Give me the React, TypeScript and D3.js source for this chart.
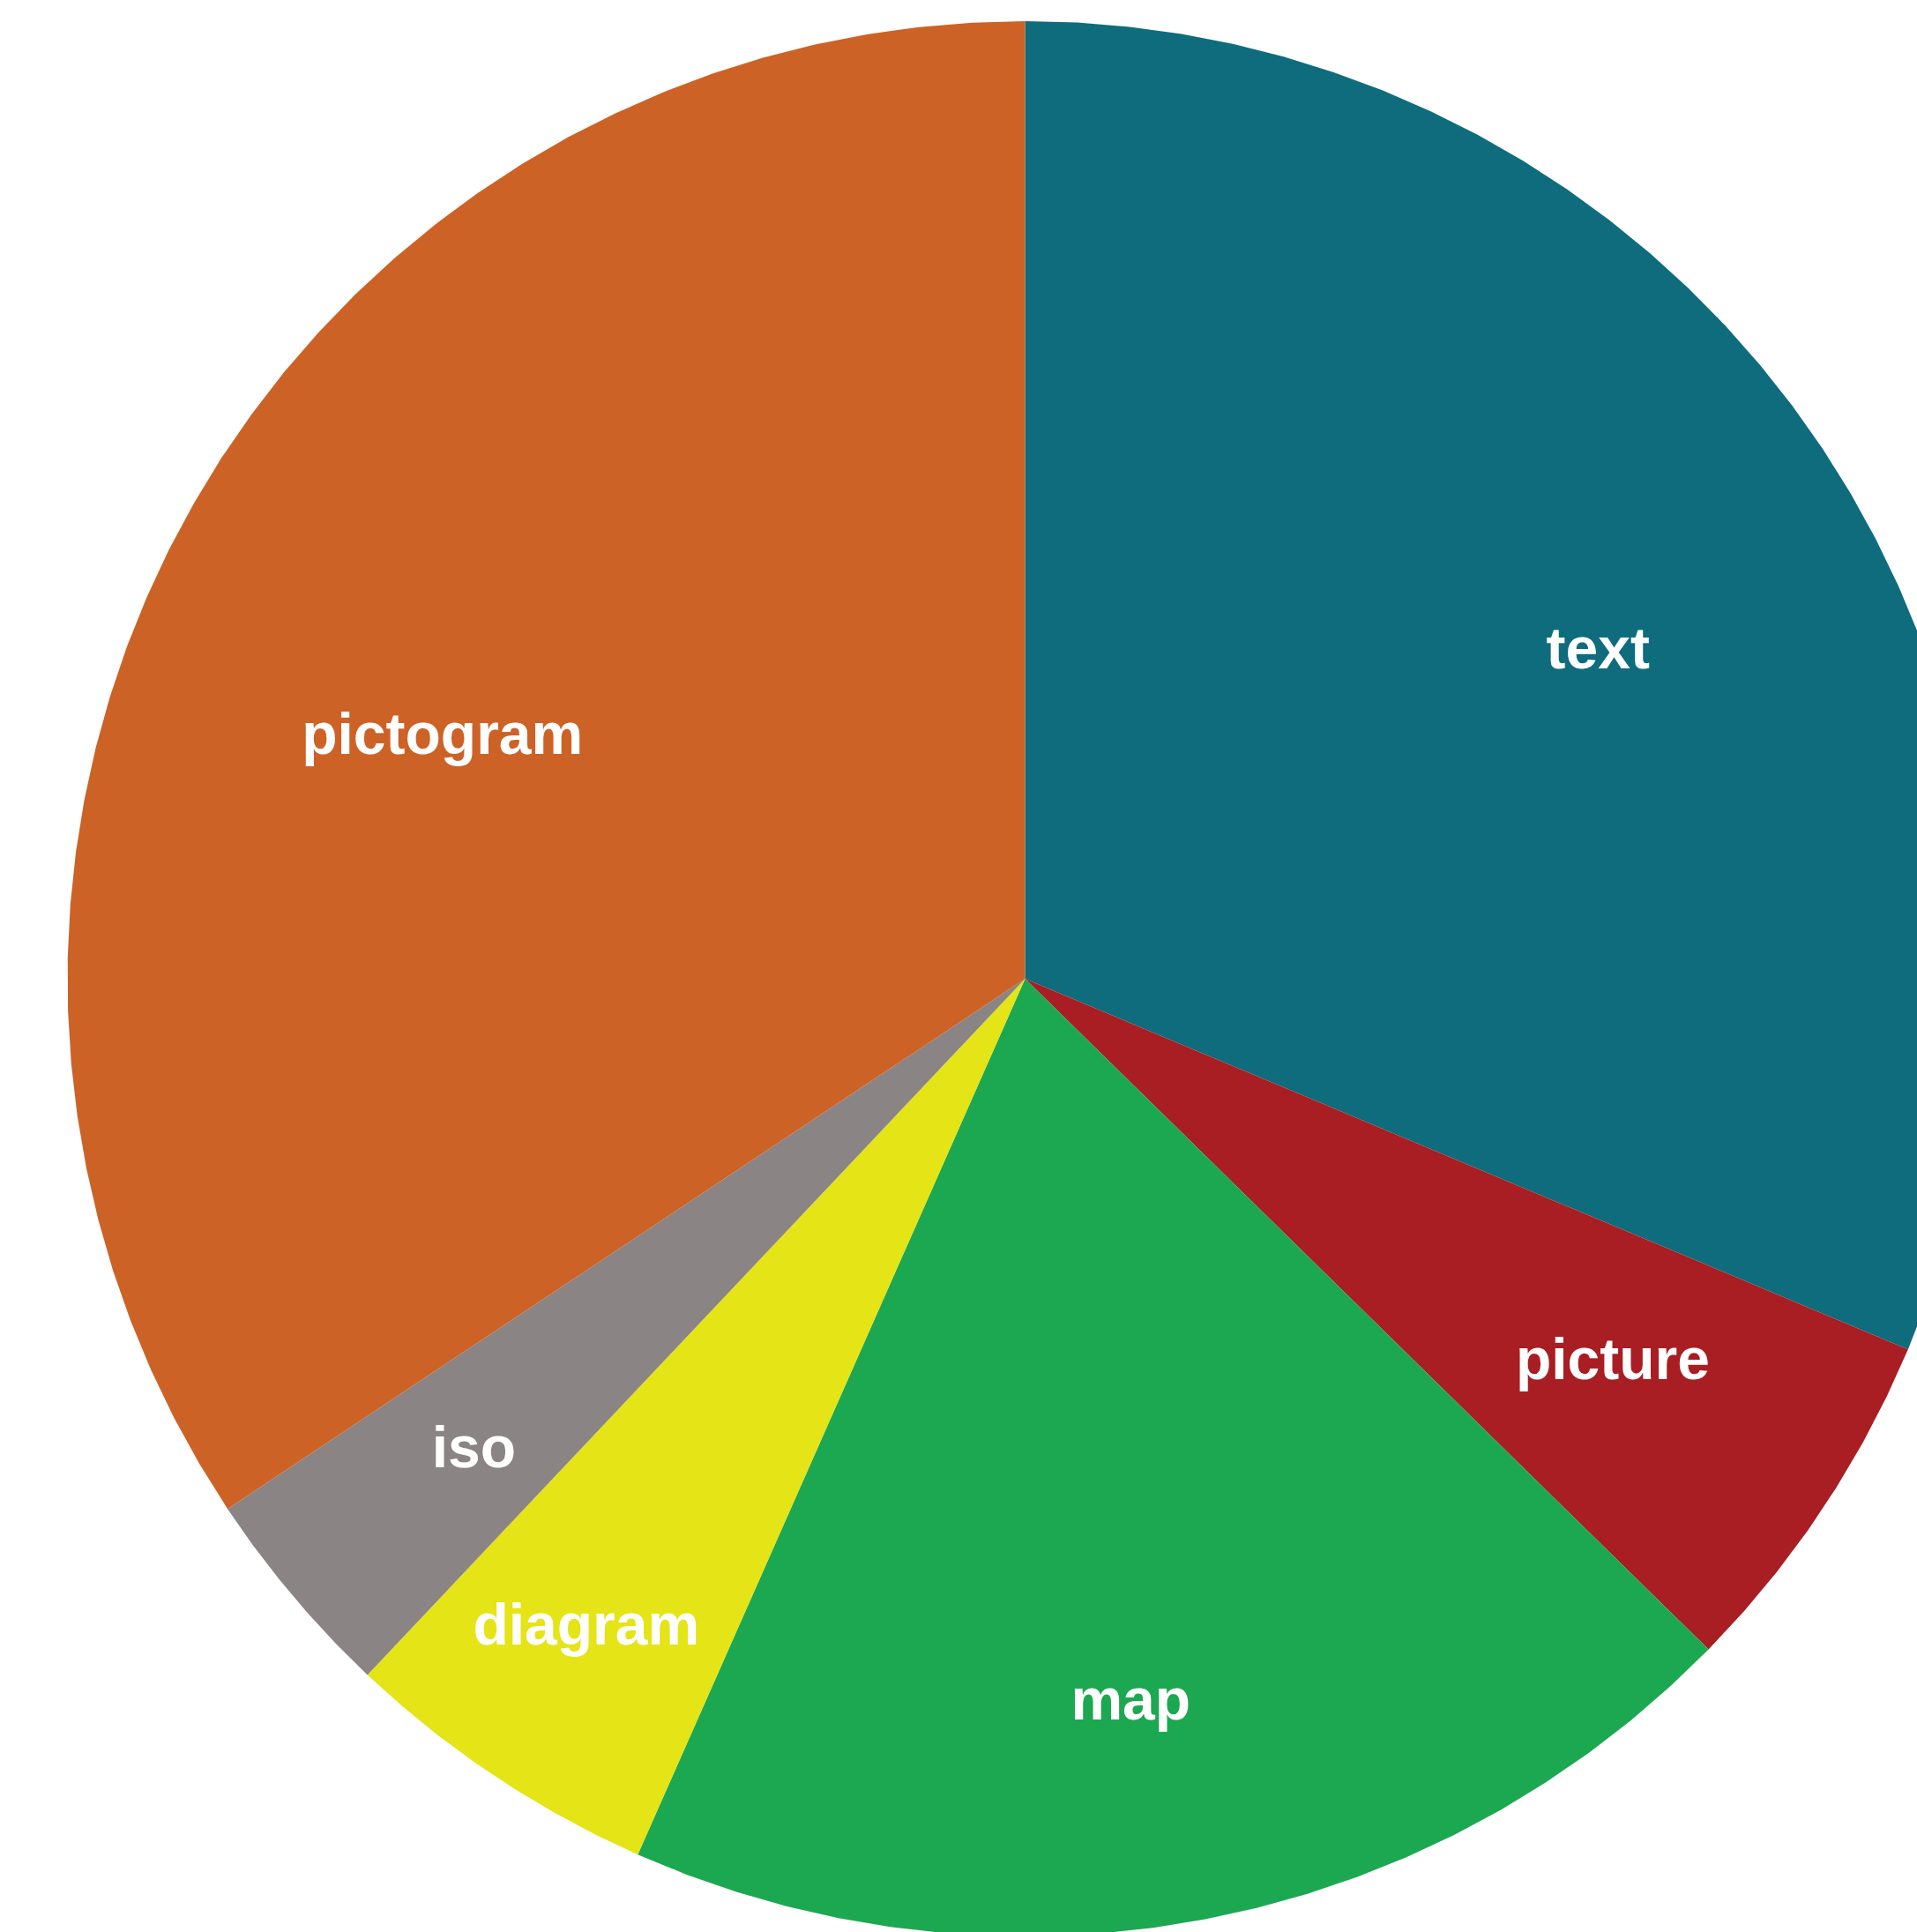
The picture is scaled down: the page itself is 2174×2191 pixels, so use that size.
import React from "react";
import * as d3 from "d3";

const categories = ["text", "picture", "map", "diagram", "iso", "pictogram"];
const counts = [52, 10, 32, 9, 6, 57];
const colors = ["#0E6C7D", "#A81E23", "#1CA851", "#E4E416", "#8A8484", "#CD6226"];
// label placement nudges (radius fraction, angle shift in degrees from slice middle)
const labelRadius = [0.691, 0.731, 0.76, 0.815, 0.755, 0.66];
const labelShift = [3.6, -0.7, 2.5, 0.6, -0.2, -5.4];

const W = 2174;
const H = 2191;
const CX = 1162.5;
const CY = 1110;
const R = 1086;
const FONT = 66;

export default function App() {
  const pie = d3.pie<number>().sort(null).value((d) => d)(counts);
  const stepDeg = 3.2;
  const pt = (a: number, r: number): [number, number] => [
    CX + r * Math.sin(a),
    CY - r * Math.cos(a),
  ];

  return (
    <svg
      width={W}
      height={H}
      style={{ position: "absolute", left: 0, top: 0 }}
      xmlns="http://www.w3.org/2000/svg"
    >
      <rect x={0} y={0} width={W} height={H} fill="#ffffff" />
      {pie.map((p, i) => {
        const span = p.endAngle - p.startAngle;
        const n = Math.max(1, Math.ceil((span * 180) / Math.PI / stepDeg));
        const pts: [number, number][] = [[CX, CY]];
        for (let k = 0; k <= n; k++) {
          pts.push(pt(p.startAngle + (span * k) / n, R));
        }
        const line = d3.line().curve(d3.curveLinearClosed)(pts) as string;
        return <path key={categories[i]} d={line} fill={colors[i]} stroke="none" />;
      })}
      {pie.map((p, i) => {
        const mid = (p.startAngle + p.endAngle) / 2 + (labelShift[i] * Math.PI) / 180;
        const [x, y] = pt(mid, R * labelRadius[i]);
        return (
          <text
            key={"l" + categories[i]}
            x={x}
            y={y}
            textAnchor="middle"
            dominantBaseline="central"
            fill="#ffffff"
            fontFamily="'Liberation Sans', Arial, Helvetica, sans-serif"
            fontWeight="bold"
            fontSize={FONT}
          >
            {categories[i]}
          </text>
        );
      })}
    </svg>
  );
}
